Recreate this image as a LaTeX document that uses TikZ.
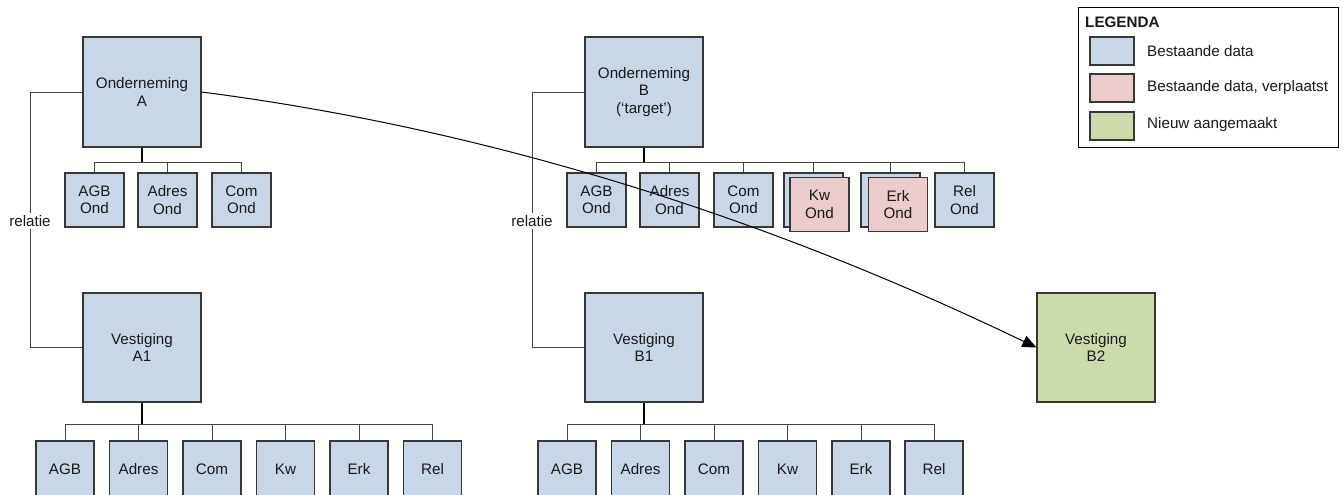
\documentclass[tikz,border=0pt]{standalone}
\usepackage{fontspec}
\setmainfont{Liberation Sans}
\usetikzlibrary{arrows.meta}
\definecolor{bfill}{RGB}{201,214,230}
\definecolor{pfill}{RGB}{234,204,204}
\definecolor{gfill}{RGB}{204,219,170}
\definecolor{bord}{RGB}{55,55,55}
\definecolor{conn}{RGB}{70,70,70}
\begin{document}
\begin{tikzpicture}[x=1pt,y=-1pt,
  every node/.style={font=\fontsize{15.2}{17.4}\selectfont, inner sep=0pt, text=black!90},
  bigbox/.style={draw=bord, line width=1.2pt, fill=bfill, minimum width=118pt, minimum height=110pt, align=center},
  smallbox/.style={draw=bord, line width=1.2pt, fill=bfill, minimum width=59pt, minimum height=54pt, align=center},
  botbox/.style={smallbox, minimum width=58pt, minimum height=56pt},
  movedbox/.style={smallbox, fill=pfill},
  newbox/.style={bigbox, fill=gfill},
  stemline/.style={draw=black, line width=1.8pt},
  busline/.style={draw=conn, line width=1pt},
  relline/.style={draw=conn, line width=1pt},
  rellabel/.style={fill=white, inner sep=2.5pt},
  arrowline/.style={draw=black, line width=1pt, -{Triangle[length=14pt,width=12pt]}},
  swatch/.style={draw=bord, line width=1.2pt, minimum width=44pt, minimum height=28pt},
  legtext/.style={anchor=west}
]
\useasboundingbox (0,0) rectangle (1344,495);

% ---------- Onderneming A ----------
\node[bigbox] (A) at (142,92) {Onderneming\\A};
\node[smallbox] (Aagb) at (94.5,200) {AGB\\Ond};
\node[smallbox] (Aadr) at (167.5,200) {Adres\\Ond};
\node[smallbox] (Acom) at (241.5,200) {Com\\Ond};
\coordinate (Ab) at (142,162);
\draw[stemline] (A.south) -- (Ab);
\foreach \c in {Aagb,Aadr,Acom} \draw[busline] (Ab) -| (\c.north);

% ---------- Vestiging A1 ----------
\node[bigbox, minimum height=109pt] (A1) at (142,347.5) {Vestiging\\A1};
\node[botbox] (A1agb) at (65,469) {AGB};
\node[botbox] (A1adr) at (138.5,469) {Adres};
\node[botbox] (A1com) at (212,469) {Com};
\node[botbox] (A1kw) at (285.5,469) {Kw};
\node[botbox] (A1erk) at (359,469) {Erk};
\node[botbox] (A1rel) at (432.5,469) {Rel};
\coordinate (A1b) at (142,424);
\draw[stemline] (A1.south) -- (A1b);
\foreach \c in {A1agb,A1adr,A1com,A1kw,A1erk,A1rel} \draw[busline] (A1b) -| (\c.north);

% relatie A
\node[rellabel] (Arel) at (30,221) {relatie};
\draw[relline] (A.west) -| (Arel);
\draw[relline] (Arel) |- (A1.west);

% ---------- Onderneming B ----------
\node[bigbox] (B) at (644,92) {Onderneming\\B\\(‘target’)};
\node[smallbox] (Bagb) at (596.5,200) {AGB\\Ond};
\node[smallbox] (Badr) at (669.5,200) {Adres\\Ond};
\node[smallbox] (Bcom) at (743.5,200) {Com\\Ond};
\node[smallbox] (Bkwb) at (813.5,200) {};
\node[movedbox] (Bkw) at (819.5,204.5) {Kw\\Ond};
\node[smallbox] (Berkb) at (890.5,200) {};
\node[movedbox] (Berk) at (898,204.5) {Erk\\Ond};
\node[smallbox] (Brel) at (964.5,200) {Rel\\Ond};
\coordinate (Bb) at (644,162);
\draw[stemline] (B.south) -- (Bb);
\foreach \c in {Bagb,Badr,Bcom,Bkwb,Berkb,Brel} \draw[busline] (Bb) -| (\c.north);

% ---------- Vestiging B1 ----------
\node[bigbox, minimum height=109pt] (B1) at (644,347.5) {Vestiging\\B1};
\node[botbox] (B1agb) at (567,469) {AGB};
\node[botbox] (B1adr) at (640.5,469) {Adres};
\node[botbox] (B1com) at (714,469) {Com};
\node[botbox] (B1kw) at (787.5,469) {Kw};
\node[botbox] (B1erk) at (861,469) {Erk};
\node[botbox] (B1rel) at (934,469) {Rel};
\coordinate (B1b) at (644,424);
\draw[stemline] (B1.south) -- (B1b);
\foreach \c in {B1agb,B1adr,B1com,B1kw,B1erk,B1rel} \draw[busline] (B1b) -| (\c.north);

% relatie B
\node[rellabel] (Brl) at (532,221) {relatie};
\draw[relline] (B.west) -| (Brl);
\draw[relline] (Brl) |- (B1.west);

% ---------- Vestiging B2 ----------
\node[newbox, minimum height=109pt] (B2) at (1096,347.5) {Vestiging\\B2};

% ---------- arrow A -> B2 ----------
\draw[arrowline] (A.east) .. controls (481,128) and (757,213) .. (B2.west);

% ---------- Legenda ----------
\node[draw=black, line width=1pt, minimum width=260pt, minimum height=140pt, anchor=north west] (leg) at (1078,7) {};
\node[legtext, font=\bfseries\fontsize{15.2}{17.4}\selectfont] (legt) at (1085,22) {LEGENDA};
\node[swatch, fill=bfill] (s1) at (1112,51) {};
\node[swatch, fill=pfill] (s2) at (1112,88) {};
\node[swatch, fill=gfill] (s3) at (1112,126) {};
\node[legtext] (t1) at (1147,51) {Bestaande data};
\node[legtext] (t2) at (1147,88) {Bestaande data, verplaatst};
\node[legtext] (t3) at (1147,125) {Nieuw aangemaakt};
\end{tikzpicture}
\end{document}
